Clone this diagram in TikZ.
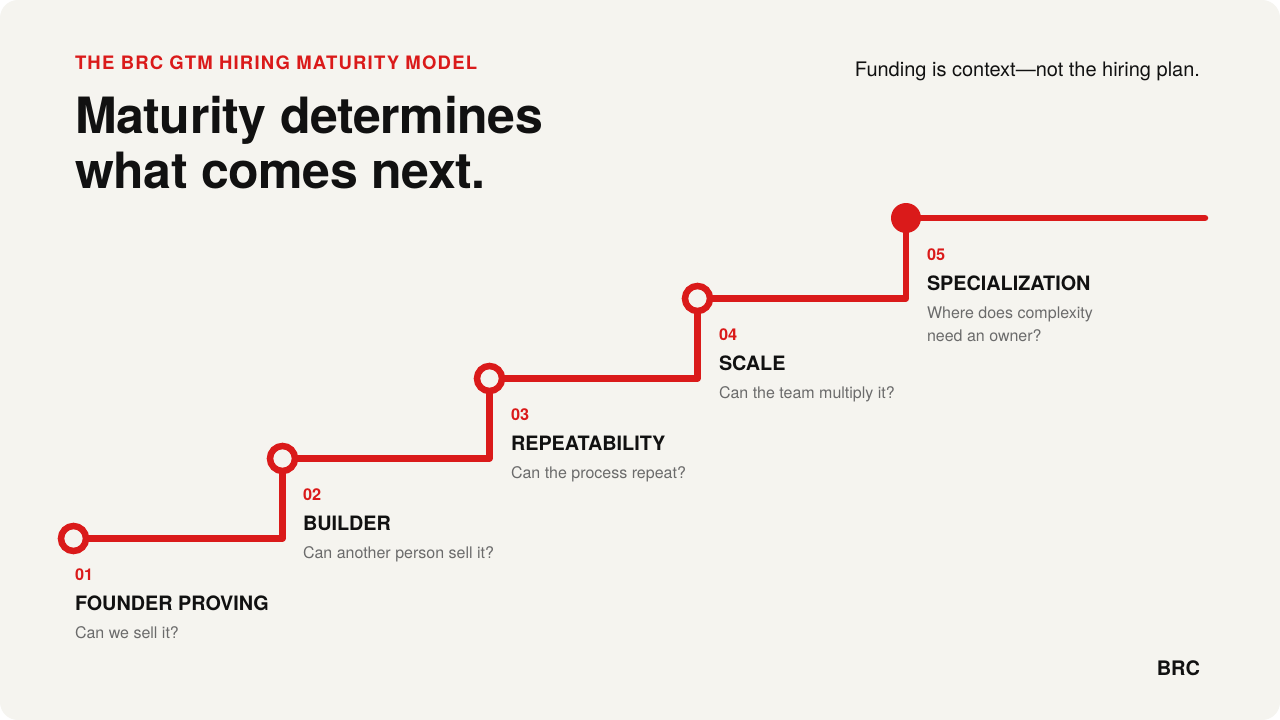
\documentclass[tikz,border=0pt]{standalone}
\usepackage{fontspec}
\setmainfont{TeX Gyre Heros}
\definecolor{bgc}{HTML}{F5F4EF}
\definecolor{brcred}{HTML}{DA1A1A}
\definecolor{ink}{HTML}{111111}
\definecolor{mute}{HTML}{6B6B6B}
\pgfdeclarelayer{bgl}
\pgfdeclarelayer{lines}
\pgfsetlayers{bgl,lines,main}
\begin{document}
\begin{tikzpicture}[x=1pt,y=-1pt,
  txt/.style={anchor=base west, inner sep=0pt, outer sep=0pt},
  num/.style={txt, text=brcred, font=\fontsize{16.3}{16}\selectfont\bfseries},
  stitle/.style={txt, text=ink, font=\fontsize{19.8}{20}\selectfont\bfseries},
  quest/.style={txt, text=mute, font=\fontsize{16}{16}\selectfont},
  headline/.style={txt, text=ink, font=\fontsize{50}{50}\selectfont\bfseries\addfontfeature{LetterSpace=-0.8}},
  ring/.style={circle, draw=brcred, line width=6.5pt, fill=bgc, minimum size=25pt, inner sep=0pt},
  dot/.style={circle, fill=brcred, minimum size=30pt, inner sep=0pt},
  track/.style={draw=brcred, line width=6.5pt, line join=round}]
\useasboundingbox (0,0) rectangle (1280,720);
\begin{pgfonlayer}{bgl}
  \fill[white] (0,0) rectangle (1280,720);
  \fill[bgc, rounded corners=18pt] (0,0) rectangle (1280,720);
\end{pgfonlayer}

% header
\node[txt, text=brcred, font=\fontsize{18.5}{18.5}\selectfont\bfseries\addfontfeature{LetterSpace=6.5}] (kicker) at (75,69) {THE BRC GTM HIRING MATURITY MODEL};
\node[headline] (h1) at (75,133) {Maturity determines};
\node[headline] (h2) at (75,188) {what comes next.};
\node[txt, anchor=base east, text=ink, font=\fontsize{20}{20}\selectfont] (note) at (1200,76) {Funding is context—not the hiring plan.};
\node[txt, anchor=base east, text=ink, font=\fontsize{20}{20}\selectfont\bfseries] (brand) at (1200,675) {BRC};

% milestones
\node[ring] (c1) at (73.5,538.5) {};
\node[ring] (c2) at (282.5,458.5) {};
\node[ring] (c3) at (489.5,378.5) {};
\node[ring] (c4) at (697.5,298.5) {};
\node[dot]  (c5) at (906,218) {};
\coordinate (e) at (1205,218);
\begin{pgfonlayer}{lines}
  \draw[track] (c1.center) -| (c2.center) -| (c3.center) -| (c4.center) -| (c5.center);
  \draw[track, line cap=round] (c5.center) -- (e);
\end{pgfonlayer}

% stage 1
\node[num] (n1) at (75,580) {01};
\node[stitle] (t1) at (75,610) {FOUNDER PROVING};
\node[quest] (q1) at (75,638) {Can we sell it?};
% stage 2
\node[num] (n2) at (303,500) {02};
\node[stitle] (t2) at (303,530) {BUILDER};
\node[quest] (q2) at (303,558) {Can another person sell it?};
% stage 3
\node[num] (n3) at (511,420) {03};
\node[stitle] (t3) at (511,450) {REPEATABILITY};
\node[quest] (q3) at (511,478) {Can the process repeat?};
% stage 4
\node[num] (n4) at (719,340) {04};
\node[stitle] (t4) at (719,370) {SCALE};
\node[quest] (q4) at (719,398) {Can the team multiply it?};
% stage 5
\node[num] (n5) at (927,260) {05};
\node[stitle] (t5) at (927,290) {SPECIALIZATION};
\node[quest] (q5) at (927,318) {Where does complexity};
\node[quest] (q5b) at (927,341) {need an owner?};
\end{tikzpicture}
\end{document}
